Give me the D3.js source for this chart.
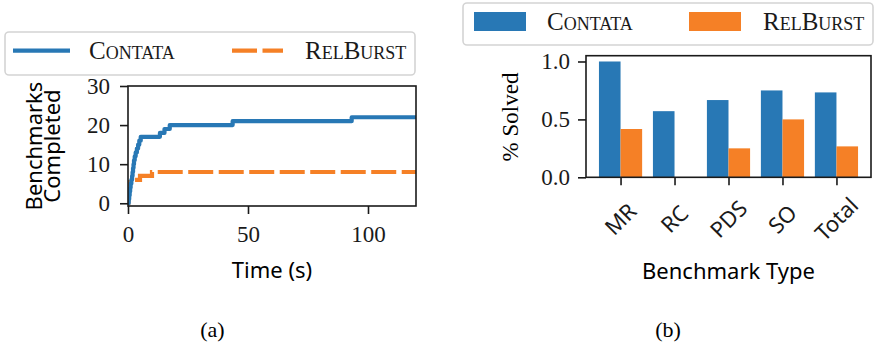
<!DOCTYPE html>
<meta charset="utf-8">
<head>
  <title>Contata vs RelBurst</title>
  <style>
    body { margin: 0; background: #fff; }
  </style>
</head>
<body>
<script src="https://d3js.org/d3.v7.min.js"></script>
<div id="chart"></div>
<script>
  // series names and colours
  const seriesNames = ["Contata", "RelBurst"]
  const colors = ["#2878b5", "#f58026"]

  // (a) time (s) at which each benchmark got completed, one entry per benchmark
  const contataTimes = [0.3, 0.5, 0.7, 0.9, 1.1, 1.4, 1.7, 1.9, 2.1, 2.3, 2.5, 2.8, 3.2, 3.7, 4.2, 4.7, 5.3, 13.3, 15.2, 17.4, 43.6, 93.2]
  const relburstTimes = [0.1, 0.2, 0.3, 0.4, 0.5, 0.7, 5.0, 10.0]
  const timeTicks = [0, 50, 100]
  const countTicks = [0, 10, 20, 30]

  // (b) fraction solved per benchmark type
  const benchTypes = ["MR", "RC", "PDS", "SO", "Total"]
  const contataSolved = [1.0, 0.571, 0.667, 0.75, 0.733]
  const relburstSolved = [0.417, 0, 0.25, 0.5, 0.267]
  const solvedTicks = [0.0, 0.5, 1.0]

  const serif = "'Liberation Serif', serif"
  const sans = "'Noto Sans', sans-serif"
  const ink = "#1a1a1a"

  const svg = d3.select("#chart")
    .append("svg")
      .attr("width", 875)
      .attr("height", 347)
      .style("display", "block")

  // ---------- (a) line chart ----------
  const xA = d3.scaleLinear().domain([0, 120]).range([128, 416])
  const yA = d3.scaleLinear().domain([-0.7, 30]).range([206, 86])

  svg.append("clipPath").attr("id", "clipA")
    .append("rect")
      .attr("x", xA.range()[0]).attr("y", yA.range()[1])
      .attr("width", xA.range()[1] - xA.range()[0])
      .attr("height", yA.range()[0] - yA.range()[1])

  const steps = times => [[0, 0]]
    .concat(times.map((t, i) => [t, i + 1]))
    .concat([[xA.domain()[1], times.length]])

  const line = d3.line()
    .x(d => xA(d[0]))
    .y(d => yA(d[1]))
    .curve(d3.curveStepAfter)

  const gLines = svg.append("g").attr("clip-path", "url(#clipA)")
  gLines.append("path")
    .attr("d", line(steps(relburstTimes)))
    .attr("fill", "none")
    .attr("stroke", colors[1])
    .attr("stroke-width", 4.2)
    .attr("stroke-dasharray", "25,5.5")
  gLines.append("path")
    .attr("d", line(steps(contataTimes)))
    .attr("fill", "none")
    .attr("stroke", colors[0])
    .attr("stroke-width", 4.2)
    .attr("stroke-linejoin", "round")

  svg.append("rect")
    .attr("x", 128).attr("y", 86).attr("width", 288).attr("height", 120)
    .attr("fill", "none").attr("stroke", ink).attr("stroke-width", 1.6)

  const axA_y = svg.append("g")
    .attr("transform", "translate(128,0)")
    .call(d3.axisLeft(yA).tickValues(countTicks).tickSize(8).tickPadding(10))
  const axA_x = svg.append("g")
    .attr("transform", "translate(0,206)")
    .call(d3.axisBottom(xA).tickValues(timeTicks).tickSize(8).tickPadding(12))

  svg.append("text")
    .attr("x", 272).attr("y", 278)
    .attr("text-anchor", "middle")
    .style("font-family", sans).style("font-size", "22px")
    .text("Time (s)")

  const ylab = svg.append("text")
    .attr("transform", "translate(0,146) rotate(-90)")
    .attr("text-anchor", "middle")
    .style("font-family", sans).style("font-size", "22px")
  ylab.append("tspan").attr("x", 0).attr("y", 42).text("Benchmarks")
  ylab.append("tspan").attr("x", 0).attr("y", 60).text("Completed")

  // ---------- (b) bar chart ----------
  const xB = d3.scaleLinear().domain([-0.64, 4.64]).range([586, 871])
  const yB = d3.scaleLinear().domain([0, 1.05]).range([177.3, 55.7])
  const barW = 0.4

  svg.append("g").selectAll("rect")
    .data(contataSolved)
    .join("rect")
      .attr("x", (d, i) => xB(i - barW))
      .attr("y", d => yB(d))
      .attr("width", xB(barW) - xB(0))
      .attr("height", d => yB(0) - yB(d))
      .attr("fill", colors[0])
  svg.append("g").selectAll("rect")
    .data(relburstSolved)
    .join("rect")
      .attr("x", (d, i) => xB(i))
      .attr("y", d => yB(d))
      .attr("width", xB(barW) - xB(0))
      .attr("height", d => yB(0) - yB(d))
      .attr("fill", colors[1])

  svg.append("rect")
    .attr("x", 586).attr("y", 55.7).attr("width", 285).attr("height", 121.6)
    .attr("fill", "none").attr("stroke", ink).attr("stroke-width", 1.6)

  const axB_y = svg.append("g")
    .attr("transform", "translate(586,0)")
    .call(d3.axisLeft(yB).tickValues(solvedTicks).tickSize(8).tickPadding(8).tickFormat(d3.format(".1f")))
  const axB_x = svg.append("g")
    .attr("transform", "translate(0,177.3)")
    .call(d3.axisBottom(xB).tickValues(d3.range(benchTypes.length)).tickSize(8).tickFormat(""))

  svg.append("g").selectAll("text")
    .data(benchTypes)
    .join("text")
      .attr("transform", (d, i) => `translate(${xB(i)},219) rotate(-45)`)
      .attr("text-anchor", "middle")
      .attr("dy", "0.36em")
      .style("font-family", sans).style("font-size", "22px")
      .attr("fill", ink)
      .text(d => d)

  svg.append("text")
    .attr("x", 728.5).attr("y", 279)
    .attr("text-anchor", "middle")
    .style("font-family", sans).style("font-size", "22px")
    .text("Benchmark Type")

  svg.append("text")
    .attr("transform", "translate(518,117) rotate(-90)")
    .attr("text-anchor", "middle")
    .style("font-family", serif).style("font-size", "23px")
    .text("% Solved")

  // shared axis styling
  ;[axA_y, axA_x, axB_y, axB_x].forEach(g => {
    g.select(".domain").remove()
    g.selectAll(".tick line").attr("stroke", ink).attr("stroke-width", 1.6)
    g.selectAll(".tick text")
      .style("font-family", serif).style("font-size", "23px").attr("fill", ink)
  })

  // ---------- legends ----------
  function legendBox(x, y, w, h) {
    svg.append("rect")
      .attr("x", x).attr("y", y).attr("width", w).attr("height", h)
      .attr("rx", 4)
      .attr("fill", "#fff").attr("fill-opacity", 0.8)
      .attr("stroke", "#d4d4d4").attr("stroke-width", 1.6)
  }
  function legendText(x, y, s) {
    svg.append("text")
      .attr("x", x).attr("y", y)
      .style("font-family", serif).style("font-size", "25px")
      .style("font-variant", "small-caps")
      .attr("fill", ink)
      .text(s)
  }

  // legend (a)
  legendBox(5, 32, 410, 43)
  svg.append("line")
    .attr("x1", 13).attr("x2", 70).attr("y1", 50.7).attr("y2", 50.7)
    .attr("stroke", colors[0]).attr("stroke-width", 4.2)
  legendText(89, 59, seriesNames[0])
  svg.append("line")
    .attr("x1", 232).attr("x2", 283).attr("y1", 50.7).attr("y2", 50.7)
    .attr("stroke", colors[1]).attr("stroke-width", 4.2)
    .attr("stroke-dasharray", "25,5.5")
  legendText(305, 59, seriesNames[1])

  // legend (b)
  legendBox(463, 3, 410, 42)
  svg.append("rect").attr("x", 474).attr("y", 12).attr("width", 52).attr("height", 19).attr("fill", colors[0])
  legendText(547, 30, seriesNames[0])
  svg.append("rect").attr("x", 689).attr("y", 12).attr("width", 52).attr("height", 19).attr("fill", colors[1])
  legendText(763, 30, seriesNames[1])

  // sub-captions
  svg.append("text")
    .attr("x", 212.5).attr("y", 337)
    .attr("text-anchor", "middle")
    .style("font-family", serif).style("font-size", "22px")
    .text("(a)")
  svg.append("text")
    .attr("x", 668).attr("y", 337)
    .attr("text-anchor", "middle")
    .style("font-family", serif).style("font-size", "22px")
    .text("(b)")
</script>
</body>
